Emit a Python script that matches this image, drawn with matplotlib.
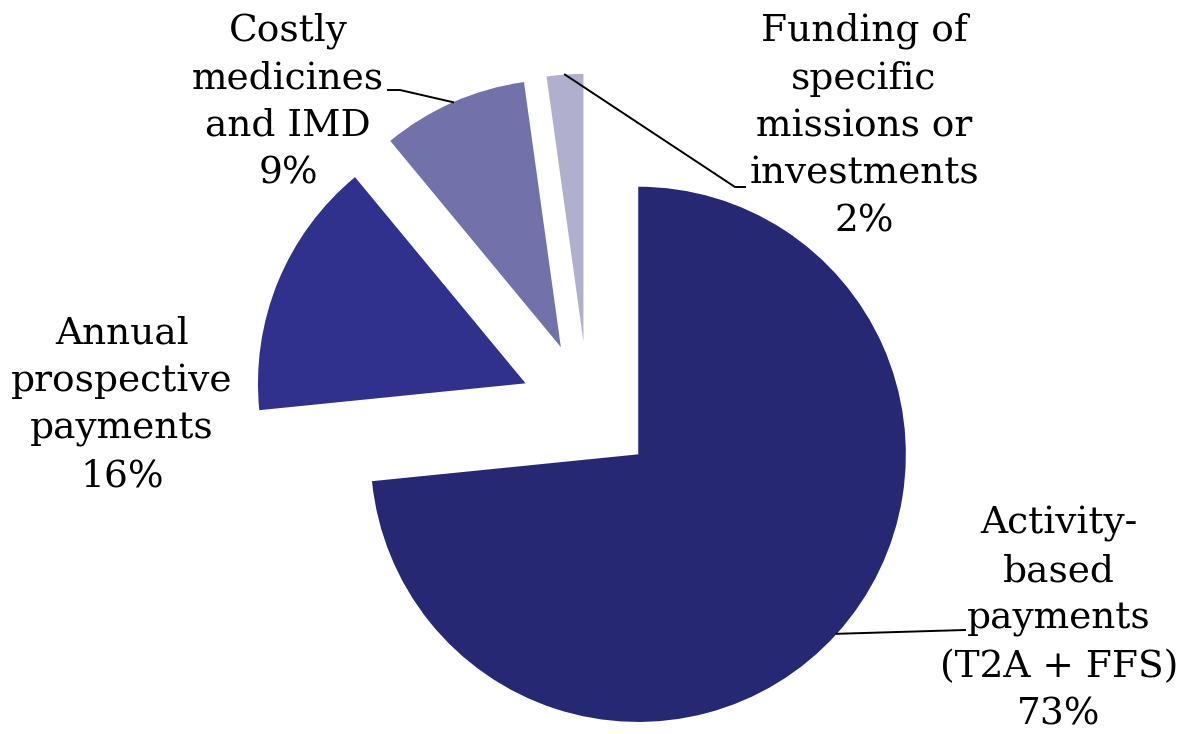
import matplotlib
matplotlib.use("Agg")
import matplotlib.pyplot as plt
import numpy as np

# slices, clockwise from 12 o'clock
labels = ["Activity-\nbased\npayments\n(T2A + FFS)\n73%",
          "Annual\nprospective\npayments\n16%",
          "Costly\nmedicines\nand IMD\n9%",
          "Funding of\nspecific\nmissions or\ninvestments\n2%"]
values = [73.4, 15.6, 8.8, 2.2]
colors = ["#262874", "#2f318d", "#7272aa", "#b0b0ce"]

W, H = 1180, 734
R = 267.6               # pie radius in pixels
CX, CY = 588.1, 409.0   # pie centre in pixels


def px(x, y):
    # pixel position (origin top-left) -> data coords
    return (x - CX) / R, (CY - y) / R


fig = plt.figure(figsize=(W / 100, H / 100), dpi=100)
ax = fig.add_axes([0, 0, 1, 1])

wedges, _ = ax.pie(values, colors=colors, startangle=90, counterclock=False,
                   explode=[0.2526] * 4, radius=1,
                   wedgeprops=dict(linewidth=0))

ax.set_xlim(px(0, 0)[0], px(W, 0)[0])
ax.set_ylim(px(0, H)[1], px(0, 0)[1])
ax.axis("off")

font = dict(family="DejaVu Serif", fontsize=27, ha="center", va="center",
            linespacing=1.41, color="black")

# label centre, leader elbow, leader end (pixels); None = no leader
layout = [
    ((1059, 619), (965, 630), None),
    ((122, 405), None, None),
    ((288, 102), (400, 90), (388, 90)),
    ((864, 126), (735, 187), (745, 187)),
]

for w, lab, (pos, elbow, end) in zip(wedges, labels, layout):
    ax.text(*px(*pos), lab, **font)
    if elbow is None:
        continue
    th = np.deg2rad((w.theta1 + w.theta2) / 2)
    x0 = w.center[0] + w.r * np.cos(th)
    y0 = w.center[1] + w.r * np.sin(th)
    pts = [(x0, y0), px(*elbow)]
    if end is not None:
        pts.append(px(*end))
    xs, ys = zip(*pts)
    ax.plot(xs, ys, color="black", lw=1.4)

fig.savefig("out.png", dpi=100)
